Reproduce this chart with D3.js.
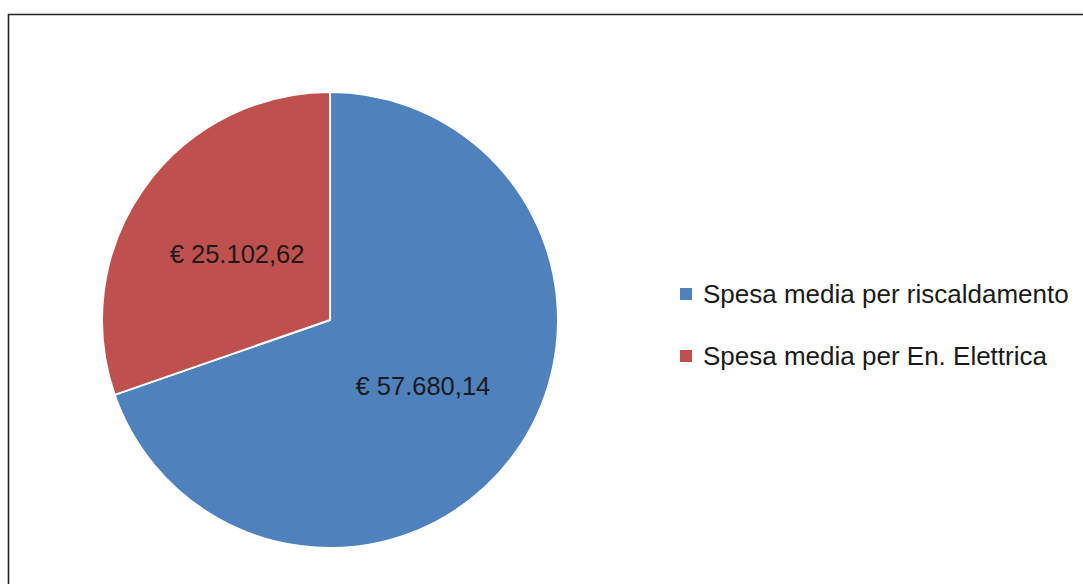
<!DOCTYPE html>
<html>
<head>
<meta charset="utf-8">
<script src="https://cdn.jsdelivr.net/npm/d3@7"></script>
<style>
html,body{margin:0;padding:0;background:#fff;}
svg{display:block;}
</style>
</head>
<body>
<svg id="chart" width="1083" height="584"></svg>
<script>
const categories = ["Spesa media per riscaldamento", "Spesa media per En. Elettrica"];
const values = [57680.14, 25102.62];
const valueLabels = ["€ 57.680,14", "€ 25.102,62"];
const colors = ["#4f81bd", "#c0504d"];

const svg = d3.select("#chart");
const font = "'Liberation Sans', Arial, sans-serif";

// frame
svg.append("path")
  .attr("d", "M8.5,584 L8.5,14.5 L1083,14.5")
  .attr("fill", "none")
  .attr("stroke", "#222")
  .attr("stroke-width", 1.6);

const cx = 330, cy = 320, r = 228;
const pie = d3.pie().sort(null).value(d => d);
const arcs = pie(values);
const arc = d3.arc().innerRadius(0).outerRadius(r);

const g = svg.append("g").attr("transform", `translate(${cx},${cy})`);
g.selectAll("path.slice")
  .data(arcs)
  .enter().append("path")
  .attr("class", "slice")
  .attr("d", arc)
  .attr("fill", (d, i) => colors[i])
  .attr("stroke", "#fff")
  .attr("stroke-width", 2);

g.selectAll("text.lbl")
  .data(arcs)
  .enter().append("text")
  .attr("class", "lbl")
  .attr("transform", d => `translate(${arc.centroid(d)})`)
  .attr("text-anchor", "middle")
  .attr("dy", "0.36em")
  .attr("font-family", font)
  .attr("font-size", 25.5)
  .attr("fill", "#1a1a1a")
  .text((d, i) => valueLabels[i]);

// legend
const legend = svg.append("g").attr("transform", "translate(680,0)");
const ly = d3.scalePoint().domain(categories).range([294, 356]);
const item = legend.selectAll("g.item").data(categories).enter().append("g")
  .attr("class", "item")
  .attr("transform", d => `translate(0,${ly(d)})`);
item.append("rect")
  .attr("x", 0).attr("y", -6)
  .attr("width", 12).attr("height", 12)
  .attr("fill", (d, i) => colors[i]);
item.append("text")
  .attr("x", 23)
  .attr("y", 0)
  .attr("dy", "0.36em")
  .attr("font-family", font)
  .attr("font-size", 26)
  .attr("fill", "#1a1a1a")
  .text(d => d);
</script>
</body>
</html>
